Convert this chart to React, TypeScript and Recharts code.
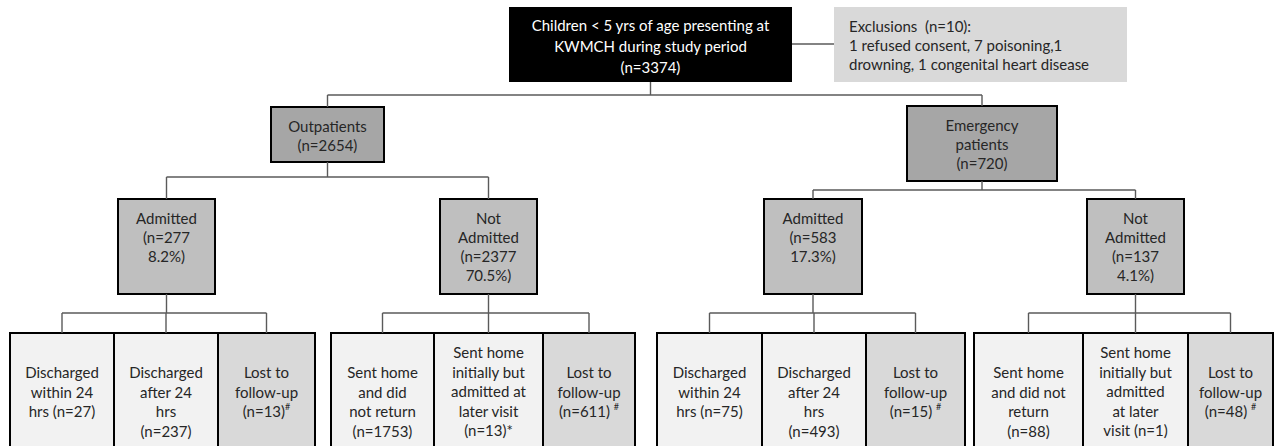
import React from "react";
import { ComposedChart, XAxis, YAxis, ReferenceArea, ReferenceLine, Scatter } from "recharts";

// --- data: the flow of patients ---
const nodeIds = [
  "all", "excl", "op", "em",
  "opAdm", "opNot", "emAdm", "emNot",
  "opAdm1", "opAdm2", "opAdm3",
  "opNot1", "opNot2", "opNot3",
  "emAdm1", "emAdm2", "emAdm3",
  "emNot1", "emNot2", "emNot3",
];

const nodeParent: (string | null)[] = [
  null, null, "all", "all",
  "op", "op", "em", "em",
  "opAdm", "opAdm", "opAdm",
  "opNot", "opNot", "opNot",
  "emAdm", "emAdm", "emAdm",
  "emNot", "emNot", "emNot",
];

const nodeKind = [
  "root", "excl", "group", "group",
  "split", "split", "split", "split",
  "out", "out", "lost",
  "out", "out", "lost",
  "out", "out", "lost",
  "out", "out", "lost",
];

const nodeLines: string[][] = [
  ["Children < 5 yrs of age presenting at", "KWMCH during study period", "(n=3374)"],
  ["Exclusions  (n=10):", "1 refused consent, 7 poisoning,1", "drowning, 1 congenital heart disease"],
  ["Outpatients", "(n=2654)"],
  ["Emergency", "patients", "(n=720)"],
  ["Admitted", "(n=277", "8.2%)"],
  ["Not", "Admitted", "(n=2377", "70.5%)"],
  ["Admitted", "(n=583", "17.3%)"],
  ["Not", "Admitted", "(n=137", "4.1%)"],
  ["Discharged", "within 24", "hrs (n=27)"],
  ["Discharged", "after 24", "hrs", "(n=237)"],
  ["Lost to", "follow-up", "(n=13)#"],
  ["Sent home", "and did", "not return", "(n=1753)"],
  ["Sent home", "initially but", "admitted at", "later visit", "(n=13)*"],
  ["Lost to", "follow-up", "(n=611) #"],
  ["Discharged", "within 24", "hrs (n=75)"],
  ["Discharged", "after 24", "hrs", "(n=493)"],
  ["Lost to", "follow-up", "(n=15) #"],
  ["Sent home", "and did not", "return", "(n=88)"],
  ["Sent home", "initially but", "admitted", "at later", "visit (n=1)"],
  ["Lost to", "follow-up", "(n=48) #"],
];

// --- layout (chart units, 1 unit = 1px) ---
const boxLeft = [509, 834, 271, 907, 118, 440, 764, 1087, 10, 114, 218, 331, 434, 543, 657, 762, 866, 974, 1083, 1188];
const boxRight = [792, 1127, 384, 1057, 215, 537, 862, 1184, 114, 218, 315, 434, 543, 635, 762, 866, 965, 1083, 1188, 1273];
const boxTop = [7, 7, 107, 106, 199, 199, 199, 199, 333, 333, 333, 333, 333, 333, 333, 333, 333, 333, 333, 333];
const boxBottom = [82, 82, 162, 181, 294, 294, 294, 294, 480, 480, 480, 480, 480, 480, 480, 480, 480, 480, 480, 480];
const firstLineY = [25, 26, 126, 125, 218, 218, 218, 218, 372, 372, 372, 372, 352, 372, 372, 372, 372, 372, 352, 372];
const busY: Record<string, number> = { all: 95, op: 177, em: 190, opAdm: 313, opNot: 313, emAdm: 313, emNot: 313 };
const exclLinkY = 44;

const W = 1274;
const H = 446;
const FONT = "Lato, 'Open Sans', sans-serif";
const LINE_COLOR = "#5a5a5a";

const kindStyle: Record<string, { fill: string; stroke: string; strokeWidth: number; color: string; lh: number }> = {
  root: { fill: "#000000", stroke: "none", strokeWidth: 0, color: "#ffffff", lh: 21 },
  excl: { fill: "#d9d9d9", stroke: "none", strokeWidth: 0, color: "#262626", lh: 19 },
  group: { fill: "#a6a6a6", stroke: "#000000", strokeWidth: 2, color: "#262626", lh: 19 },
  split: { fill: "#bfbfbf", stroke: "#000000", strokeWidth: 2, color: "#262626", lh: 19 },
  out: { fill: "#f2f2f2", stroke: "#000000", strokeWidth: 2, color: "#262626", lh: 19.5 },
  lost: { fill: "#d9d9d9", stroke: "#000000", strokeWidth: 2, color: "#262626", lh: 19.5 },
};

const centerX = (i: number) => (boxLeft[i] + boxRight[i]) / 2;

function renderLine(s: string) {
  if (s.endsWith("#")) {
    return (
      <>
        {s.slice(0, -1)}
        <tspan fontSize={9} dy={-5}>#</tspan>
      </>
    );
  }
  return s;
}

function makeBox(i: number) {
  const st = kindStyle[nodeKind[i]];
  return (props: any) => {
    const { x, y, width, height } = props;
    const k = height / (boxBottom[i] - boxTop[i]);
    const left = nodeKind[i] === "excl";
    const tx = left ? x + 15 : x + width / 2;
    return (
      <g>
        <rect x={x} y={y} width={width} height={height} fill={st.fill} stroke={st.stroke} strokeWidth={st.strokeWidth} />
        {nodeLines[i].map((s, j) => (
          <text
            key={j}
            x={tx}
            y={y + (firstLineY[i] - boxTop[i] + j * st.lh) * k}
            textAnchor={left ? "start" : "middle"}
            dominantBaseline="central"
            fontFamily={FONT}
            fontSize={15}
            fill={st.color}
            style={{ whiteSpace: "pre" }}
          >
            {renderLine(s)}
          </text>
        ))}
      </g>
    );
  };
}

// elbow connectors: parent bottom -> bus -> child tops
function connectorSegments() {
  const segs: { x1: number; y1: number; x2: number; y2: number }[] = [];
  Object.keys(busY).forEach((pid) => {
    const p = nodeIds.indexOf(pid);
    const kids = nodeParent.map((q, i) => (q === pid ? i : -1)).filter((i) => i >= 0);
    const yb = busY[pid];
    segs.push({ x1: centerX(p), y1: boxBottom[p], x2: centerX(p), y2: yb });
    const xs = kids.map(centerX);
    segs.push({ x1: Math.min(...xs), y1: yb, x2: Math.max(...xs), y2: yb });
    kids.forEach((c) => segs.push({ x1: centerX(c), y1: yb, x2: centerX(c), y2: boxTop[c] }));
  });
  const r = nodeIds.indexOf("all");
  const e = nodeIds.indexOf("excl");
  segs.push({ x1: boxRight[r], y1: exclLinkY, x2: boxLeft[e], y2: exclLinkY });
  return segs;
}

export default function App() {
  const centers = nodeIds.map((_, i) => ({ x: centerX(i), y: (boxTop[i] + boxBottom[i]) / 2 }));
  const segs = connectorSegments();
  return (
    <div style={{ position: "absolute", left: 0, top: 0, width: W, height: H, background: "#fff" }}>
      <ComposedChart width={W} height={H} margin={{ top: 0, right: 0, bottom: 0, left: 0 }} data={centers}>
        <XAxis type="number" dataKey="x" domain={[0, W]} hide allowDataOverflow />
        <YAxis type="number" dataKey="y" domain={[0, H]} reversed hide allowDataOverflow />
        {segs.map((s, i) => (
          <ReferenceLine
            key={"l" + i}
            segment={[{ x: s.x1, y: s.y1 }, { x: s.x2, y: s.y2 }]}
            stroke={LINE_COLOR}
            strokeWidth={1.4}
            ifOverflow="visible"
          />
        ))}
        {nodeIds.map((id, i) => (
          <ReferenceArea
            key={id}
            x1={boxLeft[i]}
            x2={boxRight[i]}
            y1={boxTop[i]}
            y2={boxBottom[i]}
            ifOverflow="visible"
            shape={makeBox(i)}
          />
        ))}
        <Scatter dataKey="y" fill="none" shape={() => <g />} isAnimationActive={false} />
      </ComposedChart>
    </div>
  );
}
